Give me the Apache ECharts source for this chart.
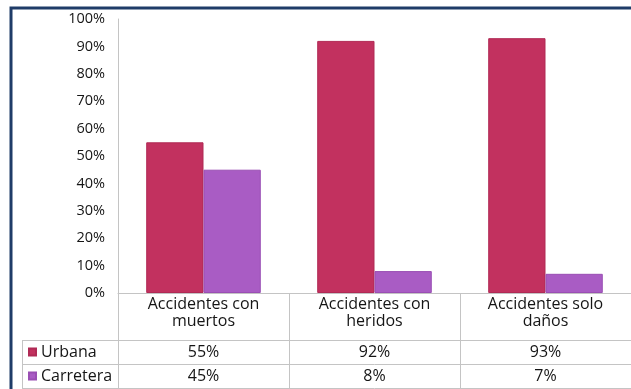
<!DOCTYPE html>
<html>
<head>
<meta charset="utf-8">
<script src="https://cdn.jsdelivr.net/npm/echarts@6/dist/echarts.min.js"></script>
<style>
  html, body { margin: 0; padding: 0; background: #fff; }
  #chart { width: 631px; height: 389px; }
</style>
</head>
<body>
<div id="chart"></div>
<script>
// Share of accidents by severity, urban streets vs. highways
const categories = ['Accidentes con\nmuertos', 'Accidentes con\nheridos', 'Accidentes solo\ndaños'];
const seriesNames = ['Urbana', 'Carretera'];
const urbana = [55, 92, 93];
const carretera = [45, 8, 7];
const seriesColors = ['#c2315f', '#a95cc4'];

const FONT = 'Open Sans';
const GRID_COLOR = '#c4c4c4';
const TEXT_COLOR = '#151515';

const chart = echarts.init(document.getElementById('chart'), null, { renderer: 'canvas' });

// one axis per table row; its labels show that row's values
function rowAxis(offset, values, margin) {
  return {
    type: 'category',
    data: categories,
    position: 'bottom',
    offset: offset,
    axisLine: { show: true, lineStyle: { color: GRID_COLOR, width: 1 } },
    axisTick: { show: false },
    axisLabel: values ? {
      show: true,
      margin: margin,
      interval: 0,
      color: TEXT_COLOR,
      fontFamily: FONT,
      fontSize: 16,
      lineHeight: 16,
      formatter: (v, i) => values[i] + '%'
    } : { show: false },
    splitLine: { show: false }
  };
}

chart.setOption({
  animation: false,
  backgroundColor: '#fff',
  textStyle: { fontFamily: FONT },
  grid: { left: 118, top: 19, width: 518, bottom: 96, containLabel: false },
  legend: {
    data: seriesNames,
    orient: 'vertical',
    left: 28,
    top: 344,
    padding: 0,
    itemWidth: 7,
    itemHeight: 7,
    itemGap: 8,
    icon: 'rect',
    selectedMode: false,
    textStyle: { color: TEXT_COLOR, fontFamily: FONT, fontSize: 16, lineHeight: 16 }
  },
  xAxis: [
    {
      type: 'category',
      data: categories,
      position: 'bottom',
      axisLine: { show: true, lineStyle: { color: GRID_COLOR, width: 1 } },
      axisTick: { show: true, interval: 0, alignWithLabel: false, length: 96, lineStyle: { color: GRID_COLOR } },
      axisLabel: {
        interval: 0,
        margin: 3,
        color: TEXT_COLOR,
        fontFamily: FONT,
        fontSize: 16,
        lineHeight: 17
      }
    },
    rowAxis(47, urbana, 4),
    rowAxis(71, carretera, 4),
    rowAxis(95, null, 0)
  ],
  yAxis: {
    type: 'value',
    min: 0,
    max: 100,
    interval: 10,
    axisLine: { show: true, lineStyle: { color: GRID_COLOR } },
    axisTick: { show: false },
    splitLine: { show: false },
    axisLabel: {
      margin: 13,
      color: TEXT_COLOR,
      fontFamily: FONT,
      fontSize: 14.5,
      formatter: '{value}%'
    }
  },
  series: [
    {
      name: seriesNames[0],
      type: 'bar',
      data: urbana,
      barGap: '0%',
      barCategoryGap: '33%',
      itemStyle: { color: seriesColors[0], borderColor: '#b02a55', borderWidth: 1 }
    },
    {
      name: seriesNames[1],
      type: 'bar',
      data: carretera,
      itemStyle: { color: seriesColors[1], borderColor: '#9a4fb4', borderWidth: 1 }
    }
  ],
  graphic: [
    // legend column of the data table
    { type: 'line', shape: { x1: 22.5, y1: 340, x2: 22.5, y2: 389 }, style: { stroke: GRID_COLOR, lineWidth: 1 }, silent: true },
    { type: 'line', shape: { x1: 22, y1: 340.5, x2: 118, y2: 340.5 }, style: { stroke: GRID_COLOR, lineWidth: 1 }, silent: true },
    { type: 'line', shape: { x1: 22, y1: 364.5, x2: 118, y2: 364.5 }, style: { stroke: GRID_COLOR, lineWidth: 1 }, silent: true },
    { type: 'line', shape: { x1: 22, y1: 388.5, x2: 118, y2: 388.5 }, style: { stroke: GRID_COLOR, lineWidth: 1 }, silent: true },
    // outer frame
    { type: 'polyline', shape: { points: [[11, 389], [11, 8], [631, 8]] }, style: { stroke: '#1f3c68', lineWidth: 3, fill: null }, silent: true, z: 100 }
  ]
});
</script>
</body>
</html>
